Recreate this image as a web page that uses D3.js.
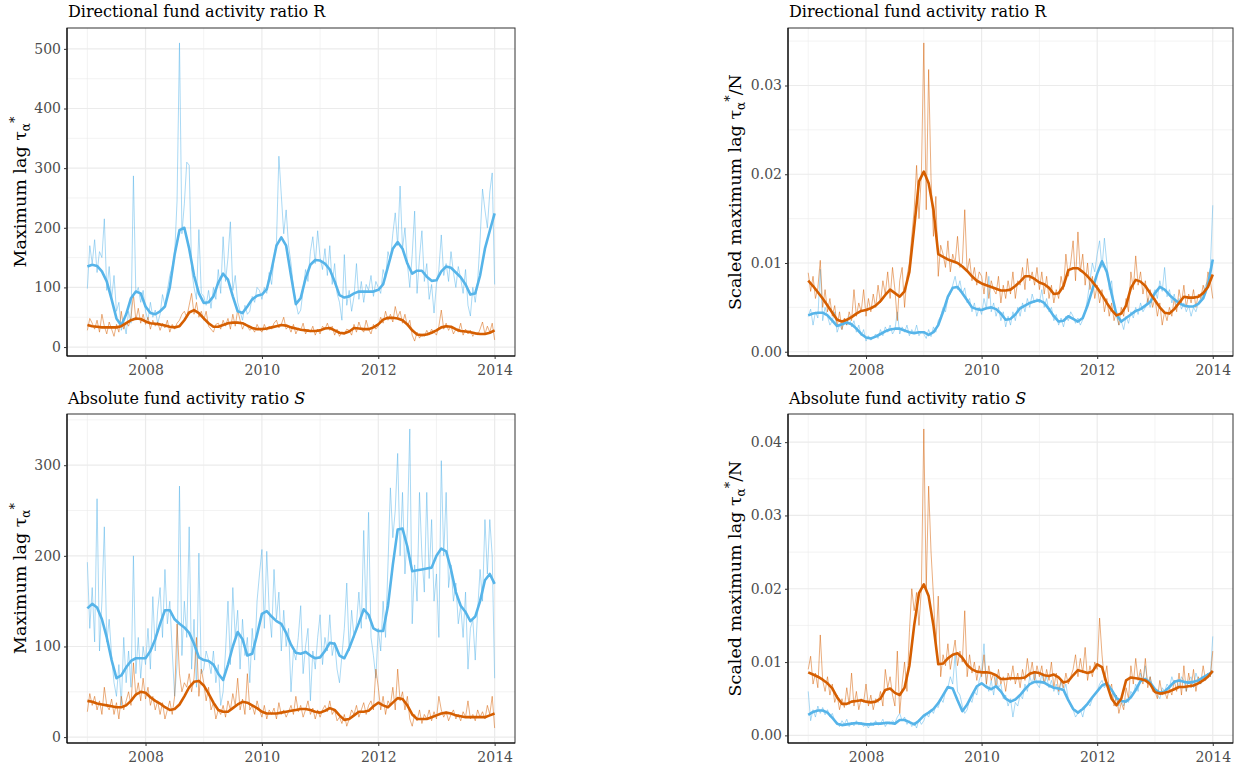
<!DOCTYPE html>
<html><head><meta charset="utf-8">
<script src="https://cdn.jsdelivr.net/npm/d3@7"></script>
<style>body{margin:0;background:#fff}svg{display:block}</style>
</head><body>
<svg id="chart" width="1259" height="772"></svg>
<script>
// ---------- DATA ----------
const startYear = 2007, endYear = 2014;
const xTicks = [2008, 2010, 2012, 2014];
const xMinor = [2007, 2009, 2011, 2013];
const titles = ["Directional fund activity ratio ", "Directional fund activity ratio ", "Absolute fund activity ratio ", "Absolute fund activity ratio "];
const titleLetters = ["R", "R", "S", "S"];
const yLabels = ["Maximum lag τ", "Scaled maximum lag τ", "Maximum lag τ", "Scaled maximum lag τ"];
const yTicksLag = [0, 100, 200, 300, 400, 500];
const yTicksLagS = [0, 100, 200, 300];
const yTicksScaledR = [0, 0.01, 0.02, 0.03];
const yTicksScaledS = [0, 0.01, 0.02, 0.03, 0.04];

// Semi-monthly raw series (2007.0 .. 2014.0)
const rBlueRaw = [
98,170,140,180,125,160,150,215,95,135,80,120,60,75,28,42,22,60,40,287,90,100,75,95,
60,45,75,50,62,40,55,88,70,95,120,135,155,245,510,190,240,310,305,130,100,80,197,90,
85,70,95,65,100,80,130,90,185,110,150,210,95,120,75,60,45,70,55,60,85,75,100,95,
80,100,90,125,105,150,175,320,255,190,230,170,140,100,75,55,62,95,130,110,160,185,140,195,
150,130,165,120,170,105,140,90,75,45,155,70,95,60,85,140,80,110,75,105,95,120,85,110,
100,90,130,115,160,145,190,225,170,270,165,200,140,100,155,228,90,150,195,110,140,80,105,57,
105,130,188,120,140,110,160,125,100,135,115,90,130,70,52,100,75,110,180,265,230,200,260,292,
105];
const rOrangeRaw = [
28,48,40,30,45,25,55,35,22,42,30,18,38,25,60,30,42,35,50,88,45,65,40,55,
38,50,30,45,35,42,28,40,32,45,25,38,30,40,45,55,60,50,70,90,55,75,50,60,
45,60,35,30,25,38,40,30,45,35,48,30,55,35,62,45,30,40,35,28,32,25,38,30,
25,38,28,35,30,40,45,32,38,50,30,35,25,38,22,32,28,40,22,30,25,35,20,30,
22,35,30,40,28,35,20,30,18,25,22,30,28,20,38,25,42,30,25,45,30,22,38,30,
35,50,40,60,45,55,42,68,50,60,40,55,35,45,20,10,25,15,22,18,28,20,30,25,
20,35,62,30,40,28,35,22,30,25,40,20,30,22,28,18,25,20,30,42,22,35,25,40,
12];
// Monthly smooth series
const rBlueSmooth = [
135,138,136,127,110,80,48,36,55,82,93,90,
68,57,55,60,68,100,155,196,200,165,120,90,
74,75,85,108,123,113,85,60,57,68,80,86,
88,97,130,170,184,170,120,72,82,115,138,146,
145,140,130,110,87,83,85,90,93,93,93,93,
96,105,135,165,176,165,140,123,128,128,118,111,
112,127,135,133,125,117,105,88,90,120,165,195,
224];
const rOrangeSmooth = [
37,35,34,33,33,33,33,35,40,45,48,47,
43,40,39,38,36,34,33,35,45,58,62,57,
48,40,34,34,37,40,41,41,40,36,32,30,
30,31,33,35,37,36,33,31,29,28,27,27,
28,31,32,28,24,23,26,32,31,30,30,33,
38,46,49,49,48,45,38,28,21,20,21,24,
28,33,35,34,30,27,26,25,23,22,22,24,
28];

const rsOrangeRaw = [
.0089,.0068,.0085,.0060,.0072,.0103,.0050,.0070,.0045,.0060,.0040,.0052,.0028,.0045,.0025,.0038,.0030,.0045,.0035,.0070,.0040,.0055,.0045,.0070,
.0040,.0060,.0045,.0065,.0050,.0075,.0055,.0080,.0065,.0090,.0060,.0095,.0070,.0035,.0080,.0095,.0050,.0085,.0100,.0130,.0160,.0210,.0150,.0200,
.0348,.0160,.0318,.0195,.0130,.0175,.0085,.0120,.0110,.0095,.0125,.0090,.0110,.0100,.0130,.0095,.0100,.0160,.0090,.0105,.0080,.0095,.0075,.0090,
.0085,.0065,.0090,.0060,.0080,.0070,.0065,.0085,.0055,.0075,.0060,.0080,.0065,.0090,.0060,.0080,.0075,.0095,.0070,.0105,.0080,.0090,.0075,.0095,
.0070,.0090,.0065,.0085,.0060,.0075,.0055,.0070,.0060,.0085,.0070,.0110,.0085,.0100,.0125,.0080,.0135,.0090,.0110,.0075,.0100,.0070,.0085,.0060,
.0075,.0055,.0070,.0045,.0060,.0040,.0055,.0035,.0045,.0030,.0050,.0040,.0060,.0045,.0090,.0070,.0108,.0075,.0090,.0065,.0080,.0055,.0070,.0050,
.0060,.0040,.0055,.0030,.0045,.0035,.0050,.0040,.0060,.0045,.0070,.0055,.0075,.0050,.0065,.0055,.0070,.0050,.0065,.0060,.0075,.0065,.0090,.0080,
.0060];
const rsBlueRaw = [
.0040,.0048,.0030,.0045,.0038,.0093,.0035,.0050,.0040,.0030,.0035,.0045,.0022,.0030,.0025,.0035,.0030,.0040,.0028,.0035,.0022,.0030,.0018,.0025,
.0012,.0018,.0013,.0016,.0020,.0015,.0025,.0018,.0028,.0022,.0030,.0020,.0025,.0045,.0020,.0028,.0022,.0030,.0018,.0025,.0020,.0030,.0018,.0023,
.0020,.0015,.0025,.0017,.0028,.0022,.0035,.0040,.0050,.0045,.0060,.0065,.0075,.0085,.0070,.0080,.0065,.0072,.0055,.0060,.0045,.0055,.0040,.0050,
.0042,.0060,.0048,.0085,.0045,.0055,.0040,.0050,.0035,.0045,.0028,.0040,.0030,.0045,.0035,.0050,.0040,.0055,.0045,.0060,.0050,.0065,.0055,.0060,
.0055,.0070,.0050,.0060,.0045,.0050,.0035,.0042,.0030,.0038,.0028,.0040,.0035,.0045,.0040,.0032,.0038,.0030,.0036,.0045,.0060,.0080,.0100,.0090,
.0110,.0125,.0095,.0128,.0100,.0070,.0080,.0050,.0040,.0030,.0035,.0025,.0040,.0032,.0045,.0038,.0050,.0042,.0055,.0045,.0050,.0060,.0050,.0062,
.0070,.0060,.0080,.0068,.0095,.0062,.0070,.0055,.0065,.0050,.0060,.0048,.0055,.0045,.0052,.0040,.0050,.0045,.0055,.0060,.0065,.0075,.0080,.0095,
.0165];
const rsOrangeSmooth = [
.0080,.0074,.0067,.0060,.0052,.0044,.0036,.0034,.0036,.0039,.0043,.0046,
.0047,.0049,.0052,.0057,.0064,.0070,.0066,.0062,.0068,.0090,.0140,.0192,
.0203,.0190,.0160,.0110,.0107,.0104,.0102,.0100,.0096,.0091,.0085,.0080,
.0077,.0075,.0073,.0071,.0069,.0069,.0070,.0074,.0079,.0085,.0085,.0082,
.0078,.0076,.0072,.0065,.0066,.0074,.0092,.0094,.0094,.0090,.0085,.0079,
.0072,.0064,.0055,.0047,.0041,.0043,.0052,.0072,.0081,.0079,.0074,.0066,
.0058,.0050,.0044,.0043,.0048,.0055,.0062,.0061,.0061,.0062,.0066,.0073,
.0087];
const rsBlueSmooth = [
.0041,.0043,.0044,.0044,.0041,.0035,.0029,.0031,.0033,.0031,.0026,.0020,
.0016,.0015,.0017,.0020,.0023,.0025,.0026,.0026,.0024,.0022,.0021,.0022,
.0022,.0019,.0022,.0030,.0045,.0062,.0072,.0073,.0066,.0058,.0050,.0048,
.0047,.0049,.0050,.0048,.0043,.0036,.0037,.0042,.0049,.0052,.0055,.0057,
.0058,.0055,.0048,.0040,.0034,.0035,.0040,.0037,.0034,.0038,.0052,.0070,
.0088,.0102,.0090,.0065,.0042,.0034,.0038,.0042,.0046,.0048,.0052,.0056,
.0066,.0073,.0070,.0064,.0059,.0055,.0052,.0051,.0051,.0054,.0060,.0075,
.0104];

const sBlueRaw = [
193,120,165,105,263,95,150,232,105,130,90,60,45,80,35,110,60,95,55,200,70,110,65,100,
80,120,75,155,95,140,165,110,185,125,150,95,45,80,277,90,150,110,232,75,130,55,203,70,
75,95,85,70,95,60,80,35,50,95,150,80,165,110,140,75,130,90,110,60,120,85,150,180,
207,120,205,140,110,185,130,160,95,140,100,120,50,95,85,110,145,70,100,120,40,95,75,110,
135,80,110,95,135,90,105,75,60,90,120,170,95,140,110,125,160,120,228,130,248,110,90,65,
120,95,150,110,190,275,220,250,313,200,270,180,230,340,125,190,150,270,200,160,270,175,240,150,
180,110,305,200,270,165,190,150,170,125,145,110,160,75,120,130,85,140,185,150,240,180,240,200,
65];
const sOrangeRaw = [
28,48,35,45,30,40,25,55,35,30,42,25,38,20,45,30,40,50,35,82,45,60,40,65,
42,55,35,45,30,40,25,38,20,30,40,25,45,125,70,50,60,55,70,50,65,110,45,75,
60,40,55,30,38,20,30,25,35,22,40,30,48,35,65,30,42,25,70,30,35,25,40,30,
22,35,20,30,25,32,20,38,25,30,22,28,35,25,45,28,35,22,30,40,25,32,20,30,
22,30,35,28,40,25,30,18,22,15,25,12,20,30,25,35,22,30,38,25,35,40,30,75,
55,30,45,25,40,35,55,30,75,40,50,30,45,20,12,25,18,30,15,25,20,30,18,28,
20,45,30,22,28,18,25,30,20,25,18,28,22,40,20,25,18,30,22,28,20,35,25,45,
10];
const sBlueSmooth = [
142,147,143,130,110,85,65,68,77,84,87,87,
87,95,108,125,140,140,130,125,121,115,103,88,
85,84,80,70,63,80,100,116,108,90,92,113,
136,139,133,128,125,115,102,93,92,94,90,87,
88,95,104,103,90,87,98,112,126,141,135,120,
117,117,145,190,229,230,210,183,184,185,186,187,
200,208,205,185,160,145,138,128,133,150,173,180,
169];
const sOrangeSmooth = [
40,39,37,36,35,34,33,33,35,40,47,50,
49,44,40,37,33,30,31,36,45,55,61,62,
57,48,38,30,28,28,32,36,39,38,35,32,
28,26,26,26,27,28,29,30,31,31,30,28,
27,29,32,30,24,19,20,24,28,28,29,34,
38,35,33,38,43,42,35,25,20,20,20,22,
24,26,27,26,24,23,22,22,22,22,22,24,
26];

const ssOrangeRaw = [
.0090,.0108,.0070,.0085,.0065,.0137,.0075,.0060,.0080,.0055,.0070,.0045,.0055,.0035,.0050,.0038,.0065,.0042,.0085,.0040,.0060,.0035,.0050,.0045,
.0070,.0040,.0055,.0035,.0050,.0045,.0060,.0040,.0090,.0065,.0080,.0055,.0040,.0115,.0030,.0070,.0100,.0060,.0140,.0200,.0170,.0195,.0150,.0200,
.0418,.0200,.0340,.0250,.0190,.0120,.0190,.0080,.0110,.0095,.0125,.0090,.0110,.0130,.0095,.0115,.0100,.0170,.0080,.0110,.0085,.0100,.0075,.0095,
.0080,.0110,.0070,.0095,.0075,.0085,.0065,.0090,.0070,.0080,.0060,.0085,.0075,.0095,.0070,.0085,.0065,.0090,.0075,.0105,.0080,.0100,.0075,.0095,
.0080,.0095,.0070,.0090,.0075,.0100,.0065,.0085,.0060,.0075,.0065,.0085,.0070,.0080,.0090,.0110,.0080,.0105,.0085,.0120,.0075,.0095,.0080,.0100,
.0090,.0160,.0110,.0075,.0095,.0060,.0070,.0040,.0055,.0030,.0045,.0035,.0065,.0050,.0095,.0070,.0105,.0075,.0090,.0070,.0105,.0065,.0080,.0060,
.0060,.0050,.0075,.0055,.0060,.0050,.0065,.0055,.0075,.0060,.0085,.0055,.0095,.0060,.0085,.0065,.0090,.0060,.0080,.0070,.0095,.0075,.0085,.0080,
.0115];
const ssBlueRaw = [
.0060,.0020,.0035,.0025,.0040,.0030,.0038,.0028,.0035,.0025,.0030,.0020,.0018,.0012,.0020,.0015,.0022,.0012,.0018,.0013,.0020,.0014,.0018,.0012,
.0016,.0010,.0018,.0013,.0020,.0014,.0016,.0022,.0012,.0018,.0015,.0020,.0017,.0025,.0030,.0020,.0025,.0015,.0020,.0012,.0018,.0010,.0022,.0015,
.0020,.0030,.0025,.0035,.0030,.0040,.0038,.0050,.0045,.0060,.0065,.0080,.0070,.0110,.0060,.0055,.0040,.0030,.0035,.0050,.0045,.0060,.0055,.0075,
.0085,.0125,.0070,.0060,.0075,.0055,.0080,.0065,.0070,.0050,.0055,.0040,.0050,.0025,.0045,.0040,.0055,.0050,.0070,.0060,.0080,.0070,.0085,.0070,
.0065,.0085,.0070,.0080,.0065,.0075,.0060,.0070,.0055,.0075,.0060,.0070,.0050,.0040,.0035,.0025,.0030,.0035,.0025,.0040,.0045,.0040,.0050,.0055,
.0060,.0070,.0075,.0065,.0070,.0060,.0055,.0045,.0050,.0040,.0050,.0040,.0050,.0045,.0060,.0055,.0070,.0060,.0085,.0075,.0095,.0070,.0080,.0065,
.0060,.0055,.0050,.0065,.0060,.0070,.0065,.0080,.0070,.0075,.0065,.0080,.0075,.0060,.0075,.0080,.0065,.0085,.0075,.0070,.0080,.0075,.0085,.0080,
.0135];
const ssOrangeSmooth = [
.0086,.0083,.0080,.0076,.0071,.0064,.0052,.0043,.0043,.0046,.0047,.0048,
.0046,.0045,.0046,.0050,.0062,.0064,.0058,.0055,.0065,.0095,.0150,.0194,
.0206,.0190,.0150,.0097,.0098,.0105,.0110,.0112,.0106,.0096,.0090,.0087,
.0086,.0086,.0085,.0082,.0077,.0077,.0078,.0078,.0078,.0079,.0084,.0086,
.0085,.0082,.0081,.0083,.0079,.0072,.0074,.0082,.0089,.0087,.0085,.0087,
.0097,.0093,.0070,.0050,.0041,.0050,.0075,.0079,.0078,.0077,.0075,.0070,
.0059,.0057,.0058,.0060,.0063,.0066,.0066,.0067,.0068,.0071,.0075,.0080,
.0088];
const ssBlueSmooth = [
.0028,.0032,.0034,.0034,.0031,.0024,.0016,.0014,.0015,.0016,.0017,.0016,
.0015,.0015,.0016,.0016,.0017,.0017,.0016,.0021,.0021,.0018,.0015,.0020,
.0027,.0031,.0036,.0044,.0055,.0066,.0064,.0048,.0033,.0042,.0055,.0067,
.0071,.0066,.0063,.0067,.0060,.0050,.0046,.0049,.0055,.0063,.0070,.0073,
.0073,.0072,.0068,.0065,.0064,.0062,.0048,.0036,.0031,.0036,.0043,.0052,
.0060,.0068,.0071,.0062,.0051,.0047,.0046,.0052,.0062,.0074,.0077,.0072,
.0063,.0058,.0060,.0066,.0073,.0075,.0073,.0072,.0073,.0075,.0079,.0083,
.0087];

// ---------- LAYOUT / STYLE ----------
const BLUE = "#56B4E9", ORANGE = "#D55E00";
const FONT = "'DejaVu Serif', 'Liberation Serif', serif";
const panels = [
  {box:{l:67,r:515,t:28,b:356}, titleY:17, yTitleX:26, scaled:false, ticks:yTicksLag, fmt:d3.format("d"),
   blueRaw:rBlueRaw, orangeRaw:rOrangeRaw, blueSm:rBlueSmooth, orangeSm:rOrangeSmooth},
  {box:{l:788,r:1233,t:28,b:356}, titleY:17, yTitleX:741, scaled:true, ticks:yTicksScaledR, fmt:d3.format(".2f"),
   blueRaw:rsBlueRaw, orangeRaw:rsOrangeRaw, blueSm:rsBlueSmooth, orangeSm:rsOrangeSmooth},
  {box:{l:67,r:515,t:414,b:743}, titleY:404, yTitleX:26, scaled:false, ticks:yTicksLagS, fmt:d3.format("d"),
   blueRaw:sBlueRaw, orangeRaw:sOrangeRaw, blueSm:sBlueSmooth, orangeSm:sOrangeSmooth},
  {box:{l:788,r:1233,t:414,b:743}, titleY:404, yTitleX:741, scaled:true, ticks:yTicksScaledS, fmt:d3.format(".2f"),
   blueRaw:ssBlueRaw, orangeRaw:ssOrangeRaw, blueSm:ssBlueSmooth, orangeSm:ssOrangeSmooth}
];

const svg = d3.select("#chart");
svg.append("rect").attr("width",1259).attr("height",772).attr("fill","#fff");

const toPoints = arr => arr.map((v,i) => ({t: startYear + (endYear-startYear)*i/(arr.length-1), v}));

panels.forEach((p, idx) => {
  const {l,r,t,b} = p.box;
  const xs = d3.scaleLinear().domain([startYear - 0.35, endYear + 0.35]).range([l, r]);
  const all = p.blueRaw.concat(p.orangeRaw, p.blueSm, p.orangeSm);
  const [mn, mx] = d3.extent(all);
  const pad = (mx - mn) * 0.05;
  const ys = d3.scaleLinear().domain([mn - pad, mx + pad]).range([b, t]);
  const g = svg.append("g");

  // grid
  const step = p.ticks[1] - p.ticks[0];
  const minorY = d3.range(p.ticks[0] - step/2, mx + pad, step).filter(v => v > mn - pad && v < mx + pad);
  const grid = g.append("g");
  grid.selectAll(".ymin").data(minorY).join("line")
    .attr("x1", l).attr("x2", r).attr("y1", d => ys(d)).attr("y2", d => ys(d))
    .attr("stroke", "#ebebeb").attr("stroke-width", 0.6);
  grid.selectAll(".xmin").data(xMinor).join("line")
    .attr("y1", t).attr("y2", b).attr("x1", d => xs(d)).attr("x2", d => xs(d))
    .attr("stroke", "#ebebeb").attr("stroke-width", 0.6);
  grid.selectAll(".ymaj").data(p.ticks).join("line")
    .attr("x1", l).attr("x2", r).attr("y1", d => ys(d)).attr("y2", d => ys(d))
    .attr("stroke", "#ebebeb").attr("stroke-width", 1.2);
  grid.selectAll(".xmaj").data(xTicks).join("line")
    .attr("y1", t).attr("y2", b).attr("x1", d => xs(d)).attr("x2", d => xs(d))
    .attr("stroke", "#ebebeb").attr("stroke-width", 1.2);

  const line = d3.line().x(d => xs(d.t)).y(d => ys(d.v));
  g.append("path").datum(toPoints(p.blueRaw)).attr("d", line)
    .attr("fill","none").attr("stroke", BLUE).attr("stroke-opacity",0.5).attr("stroke-width",1);
  g.append("path").datum(toPoints(p.orangeRaw)).attr("d", line)
    .attr("fill","none").attr("stroke", ORANGE).attr("stroke-opacity",0.5).attr("stroke-width",1);
  g.append("path").datum(toPoints(p.blueSm)).attr("d", line)
    .attr("fill","none").attr("stroke", BLUE).attr("stroke-width",2.6).attr("stroke-linejoin","round");
  g.append("path").datum(toPoints(p.orangeSm)).attr("d", line)
    .attr("fill","none").attr("stroke", ORANGE).attr("stroke-width",2.6).attr("stroke-linejoin","round");

  // border
  g.append("rect").attr("x", l).attr("y", t).attr("width", r-l).attr("height", b-t)
    .attr("fill","none").attr("stroke","#333").attr("stroke-width",1);

  // axes
  const ax = g.append("g").attr("transform", `translate(0,${b})`)
    .call(d3.axisBottom(xs).tickValues(xTicks).tickFormat(d3.format("d")).tickSize(3).tickPadding(3));
  const ay = g.append("g").attr("transform", `translate(${l},0)`)
    .call(d3.axisLeft(ys).tickValues(p.ticks).tickFormat(p.fmt).tickSize(3).tickPadding(3));
  [ax, ay].forEach(a => {
    a.select(".domain").attr("stroke","#000").attr("stroke-width",1.1);
    a.selectAll(".tick line").attr("stroke","#333");
    a.selectAll(".tick text").attr("fill","#4d4d4d").style("font-family", FONT).style("font-size","14px");
  });
  ax.select(".domain").attr("d", `M${l},0H${r}`);
  ay.select(".domain").attr("d", `M0,${t}V${b}`);
  ax.selectAll(".tick text").attr("dy","0.9em");

  // title
  const tt = svg.append("text").attr("x", l + 1).attr("y", p.titleY)
    .style("font-family", FONT).style("font-size","16px").attr("fill","#000");
  tt.append("tspan").text(titles[idx]);
  tt.append("tspan").style("font-style", idx >= 2 ? "italic" : "normal").text(titleLetters[idx]);

  // y title
  const cy = (t + b) / 2;
  const yt = svg.append("text").attr("transform", `translate(${p.yTitleX},${cy}) rotate(-90)`)
    .attr("text-anchor","middle").style("font-family", FONT).style("font-size","17.5px").attr("fill","#000");
  yt.append("tspan").text(yLabels[idx]);
  yt.append("tspan").attr("dy", 4).style("font-size","12px").text("α");
  yt.append("tspan").attr("dy", -11).style("font-size","13px").text("*");
  if (p.scaled) yt.append("tspan").attr("dy", 7).text("/N");
});
</script>
</body></html>
